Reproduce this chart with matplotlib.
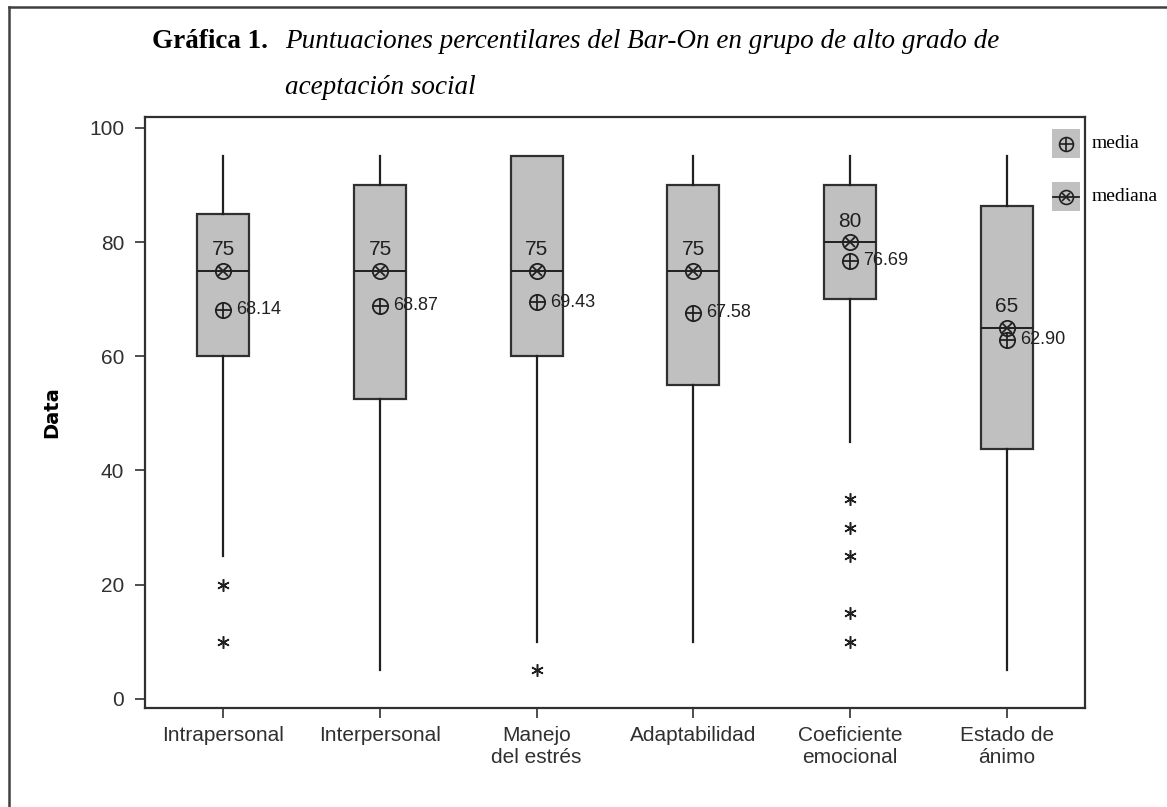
import numpy as np
import matplotlib.pyplot as plt
from matplotlib.lines import Line2D
from matplotlib.patches import Rectangle

# %%
categories = ['Intrapersonal', 'Interpersonal', 'Manejo\ndel estrés', 'Adaptabilidad',
              'Coeficiente\nemocional', 'Estado de\nánimo']
q1 = [60, 52.5, 60, 55, 70, 43.75]
medians = [75, 75, 75, 75, 80, 65]
q3 = [85, 90, 95, 90, 90, 86.25]
whis_lo = [25, 5, 10, 10, 45, 5]
whis_hi = [95, 95, 95, 95, 95, 95]
means = [68.14, 68.87, 69.43, 67.58, 76.69, 62.90]
outliers = [[20, 10], [], [5], [], [35, 30, 25, 15, 10], []]
y_ticks = [0, 20, 40, 60, 80, 100]

# %%
W, H = 1167, 807
fig = plt.figure(figsize=(W / 100, H / 100), dpi=100)
ax = fig.add_axes([145 / W, 1 - 708 / H, (1085 - 145) / W, (708 - 117) / H])

pos = np.arange(1, len(categories) + 1)
stats = []
for i in range(len(categories)):
    stats.append({'med': medians[i], 'q1': q1[i], 'q3': q3[i],
                  'whislo': whis_lo[i], 'whishi': whis_hi[i],
                  'fliers': outliers[i], 'mean': means[i]})

ax.bxp(stats, positions=pos, widths=0.33, patch_artist=True, showcaps=False,
       showmeans=False,
       boxprops=dict(facecolor='#c0c0c0', edgecolor='#303030', linewidth=1.6),
       medianprops=dict(color='#202020', linewidth=1.4),
       whiskerprops=dict(color='#202020', linewidth=1.6),
       flierprops=dict(marker=(6, 2, 0), markersize=9, markeredgecolor='#202020',
                       markeredgewidth=1.1, linestyle='none'))

# mean markers (circle with plus) and median markers (circle with x)
ax.plot(pos, means, 'o', mfc='none', mec='#202020', ms=11, mew=1.3, zorder=5)
ax.plot(pos, means, '+', color='#202020', ms=11, mew=1.3, zorder=5)
ax.plot(pos, medians, 'o', mfc='none', mec='#202020', ms=11, mew=1.3, zorder=5)
ax.plot(pos, medians, 'x', color='#202020', ms=7, mew=1.3, zorder=5)

for p, m, mn in zip(pos, medians, means):
    ax.text(p, m + 2, f'{m}', ha='center', va='bottom', fontsize=15,
            family='Liberation Sans', color='#202020')
    ax.annotate(f'{mn:.2f}', (p, mn), xytext=(13, 0), textcoords='offset pixels',
                ha='left', va='center', fontsize=13, family='Liberation Sans',
                color='#202020', zorder=6)

ax.set_xlim(0.5, 6.5)
ax.set_ylim(-1.6, 101.9)
ax.set_yticks(y_ticks)
ax.set_xticks(pos)
ax.set_xticklabels(categories, family='Liberation Sans', fontsize=15, linespacing=1.2)
ax.tick_params(axis='y', labelsize=15, length=7, width=1.2, pad=8, colors='#303030')
ax.tick_params(axis='x', length=7, width=1.2, pad=6, colors='#303030')
for lab in ax.get_yticklabels():
    lab.set_family('Liberation Sans')
for s in ax.spines.values():
    s.set_linewidth(1.6)
    s.set_color('#303030')
ax.set_ylabel('Data', fontsize=14, fontweight='bold', family='DejaVu Sans', labelpad=20)

# title
fig.text(152 / W, 1 - 42 / H, 'Gráfica 1.', family='Liberation Serif', fontsize=19.5,
         fontweight='bold', va='center', ha='left')
fig.text(285 / W, 1 - 42 / H,
         'Puntuaciones percentilares del Bar-On en grupo de alto grado de',
         family='Liberation Serif', style='italic', fontsize=19.5, va='center', ha='left')
fig.text(285 / W, 1 - 87 / H, 'aceptación social', family='Liberation Serif',
         style='italic', fontsize=19.5, va='center', ha='left')

# legend (drawn manually in figure pixels)
def fx(x):
    return x / W

def fy(y):
    return 1 - y / H

for y0, label, kind in [(129, 'media', 'mean'), (182, 'mediana', 'median')]:
    fig.add_artist(Rectangle((fx(1052), fy(y0 + 29)), 28 / W, 29 / H,
                             facecolor='#c0c0c0', edgecolor='none', transform=fig.transFigure))
    cx, cy = fx(1066), fy(y0 + 14.5)
    if kind == 'median':
        fig.add_artist(Line2D([fx(1053), fx(1079)], [cy, cy], color='#202020', lw=1.3))
    fig.add_artist(Line2D([cx], [cy], marker='o', mfc='none', mec='#202020', ms=10, mew=1.2))
    fig.add_artist(Line2D([cx], [cy], marker='+' if kind == 'mean' else 'x',
                          color='#202020', ms=10 if kind == 'mean' else 6, mew=1.2))
    fig.text(fx(1092), cy, label, family='Liberation Serif', fontsize=14,
             va='center', ha='left')

# outer frame (top and left edges visible)
fig.add_artist(Line2D([fx(8.5), fx(8.5)], [0, fy(6.5)], color='#404040', lw=1.8))
fig.add_artist(Line2D([fx(8.5), 1], [fy(6.5), fy(6.5)], color='#404040', lw=1.8))

plt.savefig('out.png', dpi=100)
plt.close()
